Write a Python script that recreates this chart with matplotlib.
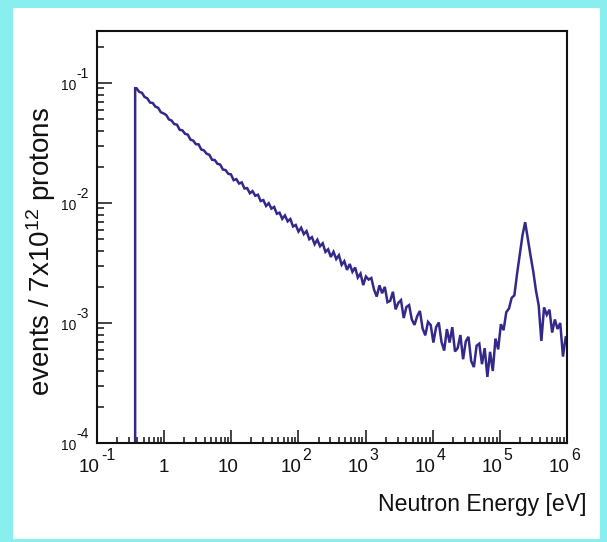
import numpy as np
import matplotlib
matplotlib.use("Agg")
import matplotlib.pyplot as plt
from matplotlib.patches import Rectangle
from matplotlib.ticker import LogLocator, NullFormatter

# ---------------------------------------------------------------------------
# Neutron energy spectrum (counts per log-spaced energy bin)
# ---------------------------------------------------------------------------
e_low = 0.37        # lower edge of first filled bin [eV]
e_high = 1.0e6      # upper edge of last bin [eV]

counts = [
    # 0.37 eV .. 10 eV
    0.0904, 0.0843, 0.0828, 0.0764, 0.0745, 0.0687, 0.0681, 0.0635, 0.0622, 0.0571,
    0.0558, 0.0541, 0.0497, 0.0486, 0.0454, 0.0449, 0.0407, 0.0403, 0.0377, 0.0371,
    0.0337, 0.0331, 0.0309, 0.0308, 0.0279, 0.0274, 0.0257, 0.0252, 0.0229, 0.0228,
    0.0212, 0.0209, 0.0190, 0.0188, 0.0175, 0.0173,
    # 10 eV .. 1 keV
    0.01549, 0.0158, 0.01452, 0.01483, 0.01321, 0.0133, 0.01205, 0.01256, 0.01148, 0.01172,
    0.01038, 0.01057, 9.44e-3, 9.95e-3, 8.97e-3, 9.27e-3, 8.13e-3, 8.30e-3, 7.38e-3, 7.87e-3,
    7.03e-3, 7.35e-3, 6.37e-3, 6.56e-3, 5.78e-3, 6.22e-3, 5.50e-3, 5.83e-3, 4.99e-3, 5.19e-3,
    4.53e-3, 4.94e-3, 4.36e-3, 4.61e-3, 3.91e-3, 4.11e-3, 3.55e-3, 3.92e-3, 3.41e-3, 3.67e-3,
    3.05e-3, 3.27e-3, 2.77e-3, 3.10e-3, 2.67e-3, 2.90e-3, 2.39e-3, 2.58e-3, 2.07e-3, 2.44e-3,
    # 1 keV .. 10 keV
    2.30e-3, 2.37e-3, 1.90e-3, 1.66e-3, 2.06e-3, 1.77e-3, 2.00e-3, 1.49e-3, 1.53e-3, 1.82e-3,
    1.30e-3, 1.47e-3, 1.55e-3, 1.10e-3, 1.36e-3, 1.41e-3, 1.07e-3, 9.64e-4, 1.14e-3, 1.26e-3,
    9.00e-4, 7.89e-4, 1.02e-3, 9.62e-4,
    # 10 keV .. 60 keV
    6.87e-4, 9.23e-4, 1.01e-3, 6.95e-4, 5.89e-4, 8.89e-4, 6.87e-4, 9.23e-4, 5.79e-4, 6.19e-4,
    7.94e-4, 4.99e-4, 7.03e-4, 7.67e-4, 4.82e-4, 4.29e-4, 6.46e-4, 6.73e-4, 4.54e-4,
    # valley
    6.17e-4, 3.55e-4, 5.75e-4, 3.98e-4, 7.41e-4, 6.03e-4, 9.77e-4,
    # evaporation peak
    8.71e-4, 1.23e-3, 1.32e-3, 1.62e-3, 1.70e-3, 2.57e-3, 3.72e-3, 5.37e-3, 6.92e-3, 5.01e-3,
    3.63e-3, 2.69e-3, 1.86e-3,
    # high-energy tail
    1.41e-3, 7.08e-4, 1.35e-3, 1.17e-3, 1.29e-3, 8.32e-4, 1.07e-3, 8.91e-4, 1.00e-3, 5.25e-4,
    7.59e-4,
]

x_decades = list(range(-1, 7))
y_decades = list(range(-4, 0))
x_range = (1e-1, 1e6)
y_range = (1e-4, 0.271)

x_title = "Neutron Energy [eV]"
y_title = r"events / 7x$10^{12}$ protons"

plt.rcParams["font.family"] = ["Liberation Sans", "DejaVu Sans"]
plt.rcParams["mathtext.fontset"] = "custom"
plt.rcParams["mathtext.rm"] = "Liberation Sans"
plt.rcParams["mathtext.it"] = "Liberation Sans:italic"
plt.rcParams["mathtext.bf"] = "Liberation Sans:bold"
plt.rcParams["mathtext.default"] = "regular"

INK = "#111111"
W, H = 607, 542
fig = plt.figure(figsize=(W / 100, H / 100), dpi=100)
fig.patch.set_facecolor("#88eeee")

# white canvas inside the cyan frame
fig.patches.append(Rectangle((13 / W, 1 - 539 / H), (600 - 13) / W, (539 - 8) / H,
                             transform=fig.transFigure, facecolor="white",
                             edgecolor="none", zorder=-5))

ax = fig.add_axes([97 / W, 1 - 443 / H, (567 - 97) / W, (443 - 31) / H])
ax.set_zorder(1)
ax.set_facecolor("white")
ax.set_xscale("log")
ax.set_yscale("log")
ax.set_xlim(*x_range)
ax.set_ylim(*y_range)

# spectrum: rising edge at the first bin, then a line through the bin centres
edges = np.logspace(np.log10(e_low), np.log10(e_high), len(counts) + 1)
centres = np.sqrt(edges[:-1] * edges[1:])
line_x = np.concatenate([[e_low, e_low], centres, [e_high]])
line_y = np.concatenate([[y_range[0], counts[0]], counts, [counts[-1]]])
ax.plot(line_x, line_y, color="#33298a", linewidth=1.8, solid_joinstyle="miter")

for s in ax.spines.values():
    s.set_linewidth(1.5)
    s.set_color(INK)
    s.set_zorder(3)

ax.xaxis.set_major_locator(LogLocator(base=10, numticks=20))
ax.xaxis.set_minor_locator(LogLocator(base=10, subs=np.arange(2, 10), numticks=100))
ax.yaxis.set_major_locator(LogLocator(base=10, numticks=20))
ax.yaxis.set_minor_locator(LogLocator(base=10, subs=np.arange(2, 10), numticks=100))
ax.xaxis.set_minor_formatter(NullFormatter())
ax.yaxis.set_minor_formatter(NullFormatter())
ax.tick_params(which="both", direction="in", top=False, right=False,
               labelbottom=False, labelleft=False, width=1.1, color=INK)
ax.tick_params(axis="y", which="major", length=10.8)
ax.tick_params(axis="y", which="minor", length=5.0)
ax.tick_params(axis="x", which="major", length=9.4)
ax.tick_params(axis="x", which="minor", length=4.3)

# x tick labels: "10" with a raised exponent
xfs = 13.5
for k in x_decades:
    pos = 10.0 ** k
    if k == 0:
        ax.annotate("1", xy=(pos, 0), xycoords=("data", "axes fraction"),
                    xytext=(0, -24), textcoords="offset pixels",
                    ha="center", va="center", fontsize=xfs, color=INK)
    elif k == 1:
        ax.annotate("10", xy=(pos, 0), xycoords=("data", "axes fraction"),
                    xytext=(-3, -24), textcoords="offset pixels",
                    ha="center", va="center", fontsize=xfs, color=INK)
    else:
        ax.annotate("10", xy=(pos, 0), xycoords=("data", "axes fraction"),
                    xytext=(3, -24), textcoords="offset pixels",
                    ha="right", va="center", fontsize=xfs, color=INK,
                    annotation_clip=False)
        ax.annotate(str(k), xy=(pos, 0), xycoords=("data", "axes fraction"),
                    xytext=(4, -12), textcoords="offset pixels",
                    ha="left", va="center", fontsize=xfs * 0.85, color=INK,
                    annotation_clip=False)

# y tick labels
yfs = 10
for k in y_decades:
    pos = 10.0 ** k
    ax.annotate("10", xy=(0, pos), xycoords=("axes fraction", "data"),
                xytext=(-21, -3), textcoords="offset pixels",
                ha="right", va="center", fontsize=yfs, color=INK,
                annotation_clip=False)
    ax.annotate(str(k), xy=(0, pos), xycoords=("axes fraction", "data"),
                xytext=(-21, 9), textcoords="offset pixels",
                ha="left", va="center", fontsize=yfs, color=INK,
                annotation_clip=False)

# axis titles
fig.text(586 / W, 1 - 511 / H, x_title, ha="right", va="baseline",
         fontsize=16.6, color=INK)
fig.text(50 / W, 1 - 107 / H, y_title, rotation=90, rotation_mode="anchor",
         ha="right", va="baseline", fontsize=20, color=INK)

fig.savefig("out.png", dpi=100, facecolor=fig.get_facecolor())
